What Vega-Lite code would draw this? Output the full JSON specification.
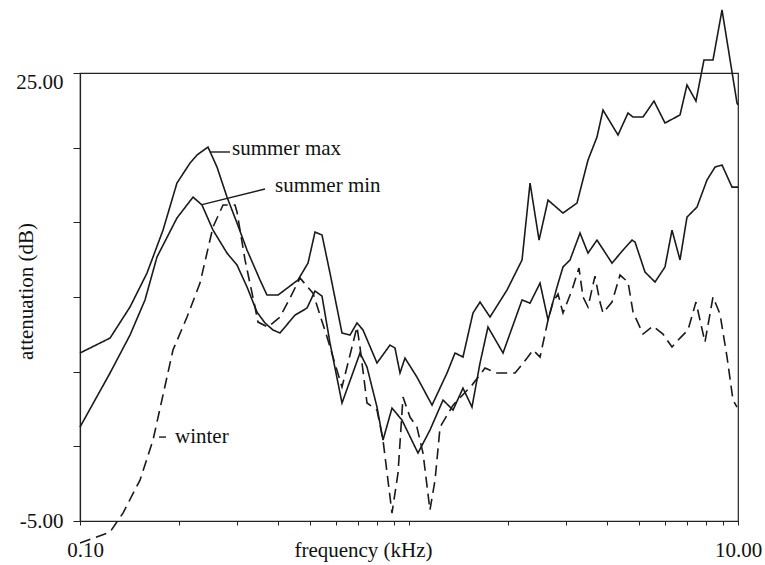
{
  "$schema": "https://vega.github.io/schema/vega-lite/v6.json",
  "width": 658,
  "height": 448,
  "autosize": {"type": "none"},
  "padding": {"left": 80, "top": 73, "right": 27, "bottom": 44},
  "background": "white",
  "config": {"view": {"stroke": "#222", "strokeWidth": 1.2}, "font": "Liberation Serif"},
  "datasets": {
    "curves": [
      {"series": "summer max", "frequency": 0.1, "attenuation": 6.25},
      {"series": "summer max", "frequency": 0.1234, "attenuation": 7.25},
      {"series": "summer max", "frequency": 0.1419, "attenuation": 9.33},
      {"series": "summer max", "frequency": 0.1598, "attenuation": 11.6},
      {"series": "summer max", "frequency": 0.1788, "attenuation": 14.48},
      {"series": "summer max", "frequency": 0.1971, "attenuation": 17.63},
      {"series": "summer max", "frequency": 0.216, "attenuation": 18.97},
      {"series": "summer max", "frequency": 0.2268, "attenuation": 19.51},
      {"series": "summer max", "frequency": 0.2449, "attenuation": 20.04},
      {"series": "summer max", "frequency": 0.2609, "attenuation": 18.7},
      {"series": "summer max", "frequency": 0.2798, "attenuation": 16.69},
      {"series": "summer max", "frequency": 0.3001, "attenuation": 14.95},
      {"series": "summer max", "frequency": 0.3219, "attenuation": 13.14},
      {"series": "summer max", "frequency": 0.3525, "attenuation": 11.14},
      {"series": "summer max", "frequency": 0.3701, "attenuation": 10.13},
      {"series": "summer max", "frequency": 0.3998, "attenuation": 10.13},
      {"series": "summer max", "frequency": 0.4598, "attenuation": 11.14},
      {"series": "summer max", "frequency": 0.4932, "attenuation": 12.27},
      {"series": "summer max", "frequency": 0.518, "attenuation": 14.35},
      {"series": "summer max", "frequency": 0.544, "attenuation": 14.15},
      {"series": "summer max", "frequency": 0.5753, "attenuation": 11.6},
      {"series": "summer max", "frequency": 0.6257, "attenuation": 7.59},
      {"series": "summer max", "frequency": 0.6617, "attenuation": 7.45},
      {"series": "summer max", "frequency": 0.6949, "attenuation": 8.26},
      {"series": "summer max", "frequency": 0.7248, "attenuation": 7.79},
      {"series": "summer max", "frequency": 0.7993, "attenuation": 5.58},
      {"series": "summer max", "frequency": 0.8755, "attenuation": 6.78},
      {"series": "summer max", "frequency": 0.9066, "attenuation": 6.58},
      {"series": "summer max", "frequency": 0.9389, "attenuation": 4.91},
      {"series": "summer max", "frequency": 0.9723, "attenuation": 5.91},
      {"series": "summer max", "frequency": 1.057, "attenuation": 4.64},
      {"series": "summer max", "frequency": 1.175, "attenuation": 2.76},
      {"series": "summer max", "frequency": 1.305, "attenuation": 4.91},
      {"series": "summer max", "frequency": 1.38, "attenuation": 6.25},
      {"series": "summer max", "frequency": 1.459, "attenuation": 5.98},
      {"series": "summer max", "frequency": 1.565, "attenuation": 8.93},
      {"series": "summer max", "frequency": 1.644, "attenuation": 9.66},
      {"series": "summer max", "frequency": 1.763, "attenuation": 8.66},
      {"series": "summer max", "frequency": 1.986, "attenuation": 10.47},
      {"series": "summer max", "frequency": 2.206, "attenuation": 12.48},
      {"series": "summer max", "frequency": 2.333, "attenuation": 17.63},
      {"series": "summer max", "frequency": 2.485, "attenuation": 13.81},
      {"series": "summer max", "frequency": 2.646, "attenuation": 16.49},
      {"series": "summer max", "frequency": 2.938, "attenuation": 15.62},
      {"series": "summer max", "frequency": 3.24, "attenuation": 16.29},
      {"series": "summer max", "frequency": 3.5, "attenuation": 19.17},
      {"series": "summer max", "frequency": 3.727, "attenuation": 20.71},
      {"series": "summer max", "frequency": 3.887, "attenuation": 22.52},
      {"series": "summer max", "frequency": 4.318, "attenuation": 20.85},
      {"series": "summer max", "frequency": 4.631, "attenuation": 22.32},
      {"series": "summer max", "frequency": 4.797, "attenuation": 22.05},
      {"series": "summer max", "frequency": 5.143, "attenuation": 22.05},
      {"series": "summer max", "frequency": 5.555, "attenuation": 23.12},
      {"series": "summer max", "frequency": 5.999, "attenuation": 21.65},
      {"series": "summer max", "frequency": 6.664, "attenuation": 22.19},
      {"series": "summer max", "frequency": 6.998, "attenuation": 24.2},
      {"series": "summer max", "frequency": 7.451, "attenuation": 23.12},
      {"series": "summer max", "frequency": 7.881, "attenuation": 25.87},
      {"series": "summer max", "frequency": 8.395, "attenuation": 25.87},
      {"series": "summer max", "frequency": 8.942, "attenuation": 29.22},
      {"series": "summer max", "frequency": 9.931, "attenuation": 22.99},
      {"series": "summer max", "frequency": 10.0, "attenuation": 22.86},

      {"series": "summer min", "frequency": 0.1, "attenuation": 1.29},
      {"series": "summer min", "frequency": 0.1234, "attenuation": 4.91},
      {"series": "summer min", "frequency": 0.1419, "attenuation": 7.45},
      {"series": "summer min", "frequency": 0.1576, "attenuation": 9.8},
      {"series": "summer min", "frequency": 0.1714, "attenuation": 12.68},
      {"series": "summer min", "frequency": 0.1971, "attenuation": 15.29},
      {"series": "summer min", "frequency": 0.2206, "attenuation": 16.69},
      {"series": "summer min", "frequency": 0.2349, "attenuation": 16.16},
      {"series": "summer min", "frequency": 0.2537, "attenuation": 14.48},
      {"series": "summer min", "frequency": 0.2798, "attenuation": 12.94},
      {"series": "summer min", "frequency": 0.3001, "attenuation": 12.14},
      {"series": "summer min", "frequency": 0.3219, "attenuation": 10.67},
      {"series": "summer min", "frequency": 0.3451, "attenuation": 8.99},
      {"series": "summer min", "frequency": 0.365, "attenuation": 8.26},
      {"series": "summer min", "frequency": 0.386, "attenuation": 7.79},
      {"series": "summer min", "frequency": 0.4054, "attenuation": 7.59},
      {"series": "summer min", "frequency": 0.4503, "attenuation": 8.79},
      {"series": "summer min", "frequency": 0.4898, "attenuation": 9.26},
      {"series": "summer min", "frequency": 0.518, "attenuation": 10.4},
      {"series": "summer min", "frequency": 0.544, "attenuation": 10.06},
      {"series": "summer min", "frequency": 0.5753, "attenuation": 6.92},
      {"series": "summer min", "frequency": 0.6257, "attenuation": 2.9},
      {"series": "summer min", "frequency": 0.7097, "attenuation": 6.25},
      {"series": "summer min", "frequency": 0.7453, "attenuation": 5.31},
      {"series": "summer min", "frequency": 0.7993, "attenuation": 2.63},
      {"series": "summer min", "frequency": 0.8337, "attenuation": 0.42},
      {"series": "summer min", "frequency": 0.8878, "attenuation": 2.56},
      {"series": "summer min", "frequency": 0.9522, "attenuation": 1.76},
      {"series": "summer min", "frequency": 1.065, "attenuation": -0.45},
      {"series": "summer min", "frequency": 1.158, "attenuation": 1.09},
      {"series": "summer min", "frequency": 1.269, "attenuation": 3.1},
      {"series": "summer min", "frequency": 1.361, "attenuation": 2.43},
      {"series": "summer min", "frequency": 1.459, "attenuation": 3.9},
      {"series": "summer min", "frequency": 1.554, "attenuation": 2.63},
      {"series": "summer min", "frequency": 1.644, "attenuation": 5.58},
      {"series": "summer min", "frequency": 1.738, "attenuation": 7.99},
      {"series": "summer min", "frequency": 1.931, "attenuation": 6.25},
      {"series": "summer min", "frequency": 2.206, "attenuation": 9.8},
      {"series": "summer min", "frequency": 2.333, "attenuation": 9.59},
      {"series": "summer min", "frequency": 2.502, "attenuation": 10.93},
      {"series": "summer min", "frequency": 2.646, "attenuation": 8.46},
      {"series": "summer min", "frequency": 2.818, "attenuation": 10.67},
      {"series": "summer min", "frequency": 2.938, "attenuation": 12.01},
      {"series": "summer min", "frequency": 3.086, "attenuation": 12.48},
      {"series": "summer min", "frequency": 3.31, "attenuation": 14.28},
      {"series": "summer min", "frequency": 3.5, "attenuation": 12.94},
      {"series": "summer min", "frequency": 3.727, "attenuation": 13.81},
      {"series": "summer min", "frequency": 4.14, "attenuation": 12.27},
      {"series": "summer min", "frequency": 4.472, "attenuation": 13.14},
      {"series": "summer min", "frequency": 4.763, "attenuation": 13.81},
      {"series": "summer min", "frequency": 4.864, "attenuation": 13.68},
      {"series": "summer min", "frequency": 5.216, "attenuation": 11.67},
      {"series": "summer min", "frequency": 5.594, "attenuation": 11.0},
      {"series": "summer min", "frequency": 5.999, "attenuation": 12.01},
      {"series": "summer min", "frequency": 6.301, "attenuation": 14.48},
      {"series": "summer min", "frequency": 6.664, "attenuation": 12.48},
      {"series": "summer min", "frequency": 6.998, "attenuation": 15.35},
      {"series": "summer min", "frequency": 7.504, "attenuation": 16.02},
      {"series": "summer min", "frequency": 8.048, "attenuation": 17.83},
      {"series": "summer min", "frequency": 8.514, "attenuation": 18.7},
      {"series": "summer min", "frequency": 8.942, "attenuation": 18.84},
      {"series": "summer min", "frequency": 9.59, "attenuation": 17.36},
      {"series": "summer min", "frequency": 10.0, "attenuation": 17.36},

      {"series": "winter", "frequency": 0.1, "attenuation": -6.48},
      {"series": "winter", "frequency": 0.1234, "attenuation": -5.74},
      {"series": "winter", "frequency": 0.1351, "attenuation": -4.47},
      {"series": "winter", "frequency": 0.1522, "attenuation": -2.26},
      {"series": "winter", "frequency": 0.1667, "attenuation": 0.42},
      {"series": "winter", "frequency": 0.1917, "attenuation": 6.45},
      {"series": "winter", "frequency": 0.2115, "attenuation": 8.66},
      {"series": "winter", "frequency": 0.2316, "attenuation": 10.93},
      {"series": "winter", "frequency": 0.2537, "attenuation": 14.69},
      {"series": "winter", "frequency": 0.2721, "attenuation": 16.16},
      {"series": "winter", "frequency": 0.2959, "attenuation": 16.16},
      {"series": "winter", "frequency": 0.3001, "attenuation": 15.69},
      {"series": "winter", "frequency": 0.3174, "attenuation": 12.48},
      {"series": "winter", "frequency": 0.3403, "attenuation": 9.33},
      {"series": "winter", "frequency": 0.3475, "attenuation": 8.32},
      {"series": "winter", "frequency": 0.3727, "attenuation": 7.99},
      {"series": "winter", "frequency": 0.4054, "attenuation": 8.66},
      {"series": "winter", "frequency": 0.4348, "attenuation": 9.93},
      {"series": "winter", "frequency": 0.4663, "attenuation": 11.27},
      {"series": "winter", "frequency": 0.5108, "attenuation": 10.26},
      {"series": "winter", "frequency": 0.5634, "attenuation": 7.32},
      {"series": "winter", "frequency": 0.6257, "attenuation": 3.97},
      {"series": "winter", "frequency": 0.6949, "attenuation": 7.99},
      {"series": "winter", "frequency": 0.7097, "attenuation": 6.65},
      {"series": "winter", "frequency": 0.7453, "attenuation": 2.9},
      {"series": "winter", "frequency": 0.7993, "attenuation": 2.43},
      {"series": "winter", "frequency": 0.8337, "attenuation": 0.42},
      {"series": "winter", "frequency": 0.8878, "attenuation": -4.47},
      {"series": "winter", "frequency": 0.926, "attenuation": -1.79},
      {"series": "winter", "frequency": 0.9589, "attenuation": 3.3},
      {"series": "winter", "frequency": 1.007, "attenuation": 1.96},
      {"series": "winter", "frequency": 1.057, "attenuation": 1.29},
      {"series": "winter", "frequency": 1.103, "attenuation": -0.45},
      {"series": "winter", "frequency": 1.158, "attenuation": -4.27},
      {"series": "winter", "frequency": 1.2, "attenuation": -2.26},
      {"series": "winter", "frequency": 1.243, "attenuation": 1.29},
      {"series": "winter", "frequency": 1.361, "attenuation": 2.76},
      {"series": "winter", "frequency": 1.554, "attenuation": 4.1},
      {"series": "winter", "frequency": 1.702, "attenuation": 5.24},
      {"series": "winter", "frequency": 1.851, "attenuation": 4.91},
      {"series": "winter", "frequency": 2.101, "attenuation": 4.91},
      {"series": "winter", "frequency": 2.285, "attenuation": 5.91},
      {"series": "winter", "frequency": 2.383, "attenuation": 6.45},
      {"series": "winter", "frequency": 2.502, "attenuation": 5.98},
      {"series": "winter", "frequency": 2.646, "attenuation": 8.46},
      {"series": "winter", "frequency": 2.74, "attenuation": 9.66},
      {"series": "winter", "frequency": 2.838, "attenuation": 10.2},
      {"series": "winter", "frequency": 2.938, "attenuation": 8.93},
      {"series": "winter", "frequency": 3.129, "attenuation": 10.47},
      {"series": "winter", "frequency": 3.286, "attenuation": 11.94},
      {"series": "winter", "frequency": 3.38, "attenuation": 10.0},
      {"series": "winter", "frequency": 3.5, "attenuation": 9.33},
      {"series": "winter", "frequency": 3.675, "attenuation": 11.4},
      {"series": "winter", "frequency": 3.806, "attenuation": 9.66},
      {"series": "winter", "frequency": 3.887, "attenuation": 8.93},
      {"series": "winter", "frequency": 4.14, "attenuation": 9.66},
      {"series": "winter", "frequency": 4.378, "attenuation": 11.47},
      {"series": "winter", "frequency": 4.631, "attenuation": 11.0},
      {"series": "winter", "frequency": 4.797, "attenuation": 8.99},
      {"series": "winter", "frequency": 5.143, "attenuation": 7.52},
      {"series": "winter", "frequency": 5.516, "attenuation": 8.05},
      {"series": "winter", "frequency": 5.916, "attenuation": 7.52},
      {"series": "winter", "frequency": 6.301, "attenuation": 6.65},
      {"series": "winter", "frequency": 6.664, "attenuation": 7.25},
      {"series": "winter", "frequency": 7.047, "attenuation": 7.79},
      {"series": "winter", "frequency": 7.451, "attenuation": 9.66},
      {"series": "winter", "frequency": 7.936, "attenuation": 6.98},
      {"series": "winter", "frequency": 8.395, "attenuation": 10.0},
      {"series": "winter", "frequency": 8.817, "attenuation": 8.86},
      {"series": "winter", "frequency": 9.261, "attenuation": 5.98},
      {"series": "winter", "frequency": 9.656, "attenuation": 3.1},
      {"series": "winter", "frequency": 9.931, "attenuation": 2.63}
    ],
    "leaders": [
      {"series": "summer max", "frequency": 0.2484, "frequency2": 0.2857, "attenuation": 19.71, "attenuation2": 19.71},
      {"series": "summer min", "frequency": 0.2349, "frequency2": 0.365, "attenuation": 16.19, "attenuation2": 17.23},
      {"series": "winter", "frequency": 0.1739, "frequency2": 0.1826, "attenuation": 0.62, "attenuation2": 0.62}
    ],
    "labels": [
      {"series": "summer max", "frequency": 0.2897, "attenuation": 19.51},
      {"series": "summer min", "frequency": 0.3914, "attenuation": 17.03},
      {"series": "winter", "frequency": 0.1944, "attenuation": 0.22}
    ]
  },
  "layer": [
    {
      "data": {"name": "curves"},
      "mark": {"type": "line", "strokeWidth": 1.6, "color": "#1a1a1a"},
      "encoding": {
        "x": {
          "field": "frequency", "type": "quantitative",
          "scale": {"type": "log", "domain": [0.1, 10], "nice": false},
          "axis": {
            "title": "frequency (kHz)",
            "values": [0.1, 0.2, 0.3, 0.4, 0.5, 0.6, 0.7, 0.8, 0.9, 1, 2, 3, 4, 5, 6, 7, 8, 9, 10],
            "labelExpr": "datum.value == 0.1 ? '0.10' : (datum.value == 10 ? '10.00' : '')",
            "grid": false, "tickSize": 4, "tickColor": "#222", "domainColor": "#222", "domainWidth": 1.2,
            "labelFont": "Liberation Serif", "labelFontSize": 21, "labelColor": "#111",
            "labelBaseline": "alphabetic", "labelPadding": 31, "labelOverlap": false, "labelFlush": false, "labelBound": false,
            "labelOffset": {"condition": {"test": "datum.value == 0.1", "value": 5}, "value": 0},
            "titleFont": "Liberation Serif", "titleFontSize": 21, "titleFontWeight": "normal", "titleColor": "#111",
            "titleX": 283, "titleY": 35, "titleBaseline": "alphabetic", "titleAlign": "center"
          }
        },
        "y": {
          "field": "attenuation", "type": "quantitative",
          "scale": {"domain": [-5, 25], "nice": false, "zero": false},
          "axis": {
            "title": "attenuation (dB)",
            "values": [-5, 0, 5, 10, 15, 20, 25],
            "labelExpr": "datum.value == 25 ? '25.00' : (datum.value == -5 ? '-5.00' : '')",
            "grid": false, "tickSize": 7, "tickColor": "#222", "domainColor": "#222", "domainWidth": 1.2,
            "labelFont": "Liberation Serif", "labelFontSize": 21, "labelColor": "#111",
            "labelBaseline": "middle", "labelPadding": 10, "labelOverlap": false, "labelFlush": false, "labelBound": false,
            "labelOffset": {"condition": {"test": "datum.value == 25", "value": 9}, "value": 0},
            "titleFont": "Liberation Serif", "titleFontSize": 21, "titleFontWeight": "normal", "titleColor": "#111",
            "titleX": -48, "titleY": 218, "titleBaseline": "alphabetic", "titleAngle": -90, "titleAlign": "center"
          }
        },
        "detail": {"field": "series", "type": "nominal"},
        "strokeDash": {
          "field": "series", "type": "nominal",
          "scale": {"domain": ["summer max", "summer min", "winter"], "range": [[1, 0], [1, 0], [11, 6]]},
          "legend": null
        }
      }
    },
    {
      "data": {"name": "leaders"},
      "mark": {"type": "rule", "strokeWidth": 1.4, "color": "#1a1a1a"},
      "encoding": {
        "x": {"field": "frequency", "type": "quantitative"},
        "x2": {"field": "frequency2"},
        "y": {"field": "attenuation", "type": "quantitative"},
        "y2": {"field": "attenuation2"}
      }
    },
    {
      "data": {"name": "labels"},
      "mark": {"type": "text", "align": "left", "baseline": "alphabetic", "fontSize": 21, "font": "Liberation Serif", "color": "#111"},
      "encoding": {
        "x": {"field": "frequency", "type": "quantitative"},
        "y": {"field": "attenuation", "type": "quantitative"},
        "text": {"field": "series", "type": "nominal"}
      }
    }
  ]
}
